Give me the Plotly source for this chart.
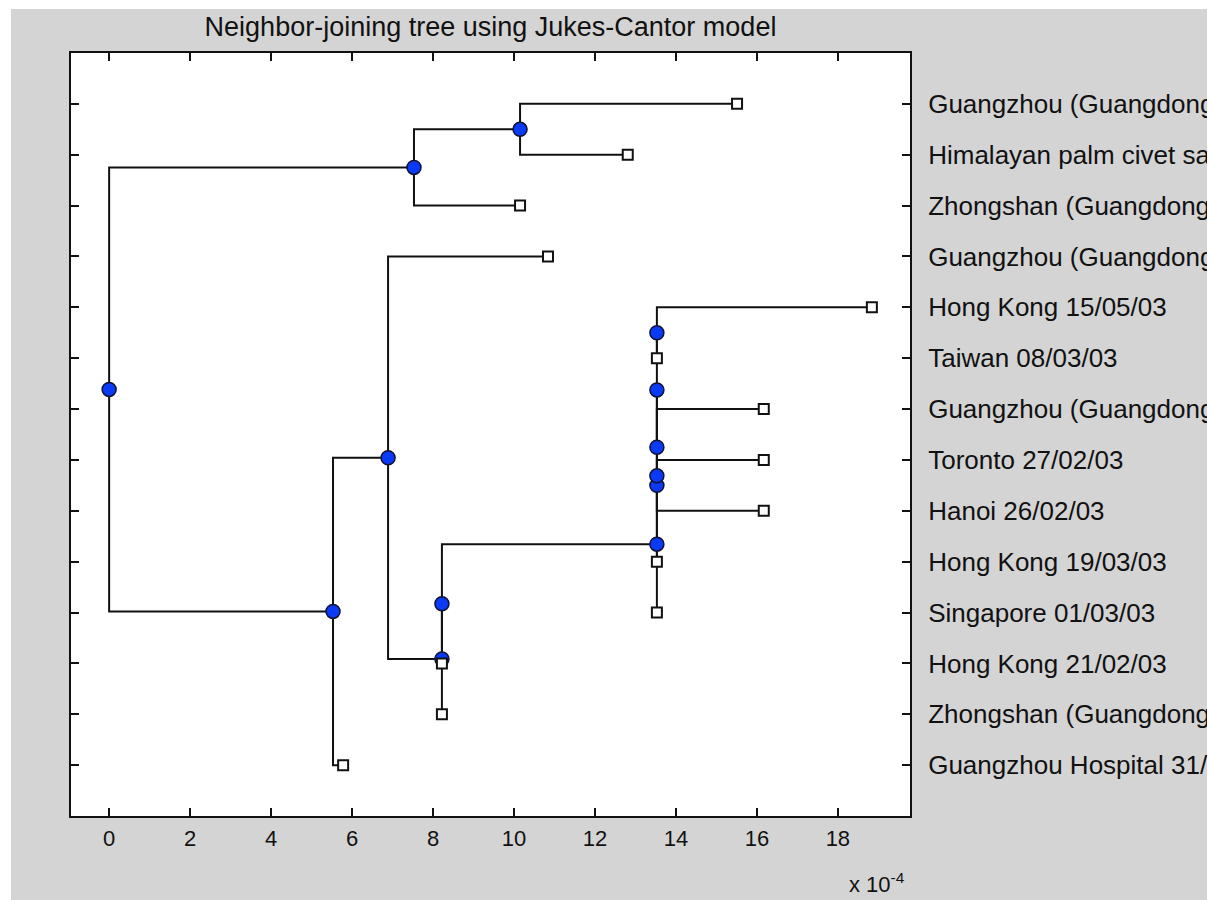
import plotly.graph_objects as go

# ---------------- data ----------------
title_text = "Neighbor-joining tree using Jukes-Cantor model"

leaf_names = [
    "Guangzhou (Guangdong) 16/04/03",
    "Himalayan palm civet sample SZ3",
    "Zhongshan (Guangdong) 19/01/03",
    "Guangzhou (Guangdong) 18/02/03",
    "Hong Kong 15/05/03",
    "Taiwan 08/03/03",
    "Guangzhou (Guangdong) 24/01/03",
    "Toronto 27/02/03",
    "Hanoi 26/02/03",
    "Hong Kong 19/03/03",
    "Singapore 01/03/03",
    "Hong Kong 21/02/03",
    "Zhongshan (Guangdong) 16/12/02",
    "Guangzhou Hospital 31/01/03",
]
# distance from root, in units of 1e-4
leaf_dist = [15.51, 12.81, 10.15, 10.84, 18.84, 13.53, 16.17,
             16.17, 16.17, 13.53, 13.53, 8.22, 8.22, 5.78]

# internal (branch) nodes; leaves are 0..13, branches numbered 14.. in order
branch_children = [
    (0, 1),     # 14
    (14, 2),    # 15
    (4, 5),     # 16
    (7, 8),     # 17
    (6, 17),    # 18
    (16, 18),   # 19
    (19, 9),    # 20
    (20, 10),   # 21
    (21, 11),   # 22
    (22, 12),   # 23
    (3, 23),    # 24
    (24, 13),   # 25
    (15, 25),   # 26 root
]
branch_dist = [10.15, 7.53, 13.53, 13.53, 13.53, 13.53, 13.53,
               13.53, 8.22, 8.22, 6.89, 5.53, 0.0]

xticks = [0, 2, 4, 6, 8, 10, 12, 14, 16, 18]

# ---------------- tree layout ----------------
n_leaf = len(leaf_names)
node_x = list(leaf_dist) + list(branch_dist)
node_y = [i + 1 for i in range(n_leaf)] + [0.0] * len(branch_children)
for k, (c1, c2) in enumerate(branch_children):
    node_y[n_leaf + k] = (node_y[c1] + node_y[c2]) / 2.0

lx, ly = [], []
for k, (c1, c2) in enumerate(branch_children):
    n = n_leaf + k
    lx += [node_x[c1], node_x[n], node_x[n], node_x[c2], None]
    ly += [node_y[c1], node_y[c1], node_y[c2], node_y[c2], None]

fig = go.Figure()
fig.add_trace(go.Scatter(x=lx, y=ly, mode="lines",
                         line=dict(color="#111111", width=2),
                         hoverinfo="skip", showlegend=False))
fig.add_trace(go.Scatter(x=node_x[n_leaf:], y=node_y[n_leaf:], mode="markers",
                         marker=dict(symbol="circle", size=14, color="#0a3af5",
                                     line=dict(color="#111133", width=1.5)),
                         showlegend=False))
fig.add_trace(go.Scatter(x=node_x[:n_leaf], y=node_y[:n_leaf], mode="markers",
                         marker=dict(symbol="square", size=10, color="white",
                                     line=dict(color="#111111", width=2)),
                         text=leaf_names, hoverinfo="text", showlegend=False))

xmax = max(leaf_dist)
FONT = "Liberation Sans, Arial, sans-serif"
axis_common = dict(showline=True, linecolor="#111111", linewidth=2,
                   mirror="ticks", ticks="inside", ticklen=8, tickwidth=1.5,
                   tickcolor="#111111", showgrid=False, zeroline=False,
                   automargin=False)

L, R, T, B = 71, 300, 53, 84
PW, PH = 1210 - L - R, 900 - T - B

fig.update_layout(
    width=1210, height=900,
    margin=dict(l=L, r=R, t=T, b=B, autoexpand=False),
    paper_bgcolor="#d4d4d4", plot_bgcolor="white",
    font=dict(family=FONT, color="#111111"),
    title=dict(text=title_text, x=(L + 1210 - R) / 2 / 1210, xanchor="center",
               xref="container", yref="container",
               y=1 - 27 / 900, yanchor="middle",
               font=dict(size=27, family=FONT, color="#111111")),
    xaxis=dict(range=[-0.05 * xmax, 1.05 * xmax], tickvals=xticks,
               ticktext=[str(v) for v in xticks], ticklabelstandoff=2,
               tickfont=dict(size=22, family=FONT, color="#111111"),
               **axis_common),
    yaxis=dict(range=[n_leaf + 1, 0], tickvals=list(range(1, n_leaf + 1)),
               ticktext=leaf_names, side="right", ticklabelstandoff=11,
               tickfont=dict(size=26, family=FONT, color="#111111"),
               **axis_common),
    annotations=[dict(text="x 10<sup>-4</sup>", xref="paper", yref="paper",
                      x=(907 - L) / PW, y=(900 - B - 883) / PH, xanchor="right",
                      yanchor="middle", showarrow=False,
                      font=dict(size=22, family=FONT, color="#111111"))],
    shapes=[
        dict(type="rect", xref="paper", yref="paper", layer="above",
             x0=-0.2, x1=1.6, y0=(900 - B - 9) / PH, y1=1.2,
             fillcolor="white", line=dict(width=0)),
        dict(type="rect", xref="paper", yref="paper", layer="above",
             x0=-0.2, x1=(11 - L) / PW, y0=-0.2, y1=1.2,
             fillcolor="white", line=dict(width=0)),
        dict(type="rect", xref="paper", yref="paper", layer="above",
             x0=(1207 - L) / PW, x1=1.6, y0=-0.2, y1=1.2,
             fillcolor="white", line=dict(width=0)),
    ],
)

fig.write_html("out.html", config={"displayModeBar": False},
               post_script="document.body.style.margin='0';"
                           "document.body.style.overflow='hidden';")
